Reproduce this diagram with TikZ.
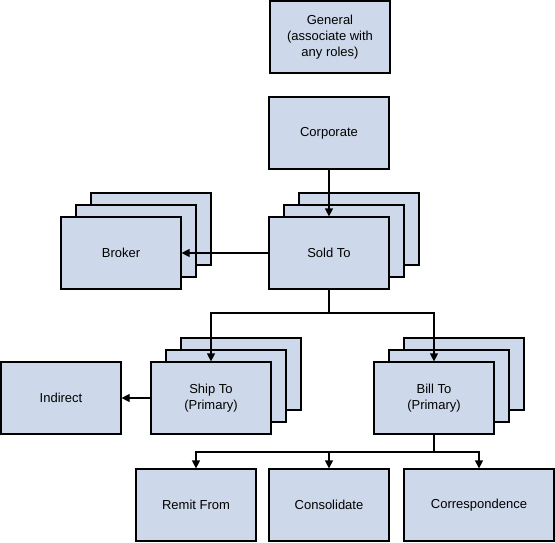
\documentclass[tikz,border=0pt]{standalone}
\usepackage{fontspec}
\setmainfont{Liberation Sans}
\usetikzlibrary{arrows.meta,shadows}
\definecolor{rolefill}{RGB}{205,217,234}
\tikzset{
  >={Triangle[length=8pt,width=8pt]},
  role/.style={draw,fill=rolefill,line width=1.2pt,minimum width=120pt,
    minimum height=72pt,align=center,inner sep=0pt,
    font=\fontsize{13}{16}\selectfont},
  stacked/.style={
    copy shadow={shadow xshift=30pt,shadow yshift=24pt,fill=rolefill},
    copy shadow={shadow xshift=15pt,shadow yshift=12pt,fill=rolefill}},
  link/.style={line width=1.2pt,->},
}

\begin{document}
\begin{tikzpicture}[x=1pt,y=-1pt]
    \useasboundingbox (0,0) rectangle (555,543);
    % roles
    \node[role] (general) at (330,37) {General\\(associate with\\any roles)};
    \node[role] (corporate) at (329,133) {Corporate};
    \node[role,stacked] (soldto) at (329,253) {Sold To};
    \node[role,stacked] (broker) at (121,253) {Broker};
    \node[role,stacked] (shipto) at (211,398) {Ship To\\(Primary)};
    \node[role] (indirect) at (61,398) {Indirect};
    \node[role,stacked] (billto) at (434,398) {Bill To\\(Primary)};
    \node[role] (remit) at (196,505) {Remit From};
    \node[role] (consolidate) at (329,505) {Consolidate};
    \node[role,minimum width=150pt] (corresp) at (479,505) {Correspondence};
    % connectors
    \coordinate (soldbus) at (329,313);
    \coordinate (billbus) at (434,452);
    \draw[link] (corporate) -- (soldto);
    \draw[link] (soldto) -- (broker);
    \draw[link] (soldto.south) -- (soldbus) -| (shipto.north);
    \draw[link] (soldbus) -| (billto.north);
    \draw[link] (shipto) -- (indirect);
    \draw[line width=1.2pt] (billto.south) -- (billbus);
    \draw[link] (billbus) -| (remit.north);
    \draw[link] (billbus) -| (consolidate.north);
    \draw[link] (billbus) -| (corresp.north);
\end{tikzpicture}
\end{document}
